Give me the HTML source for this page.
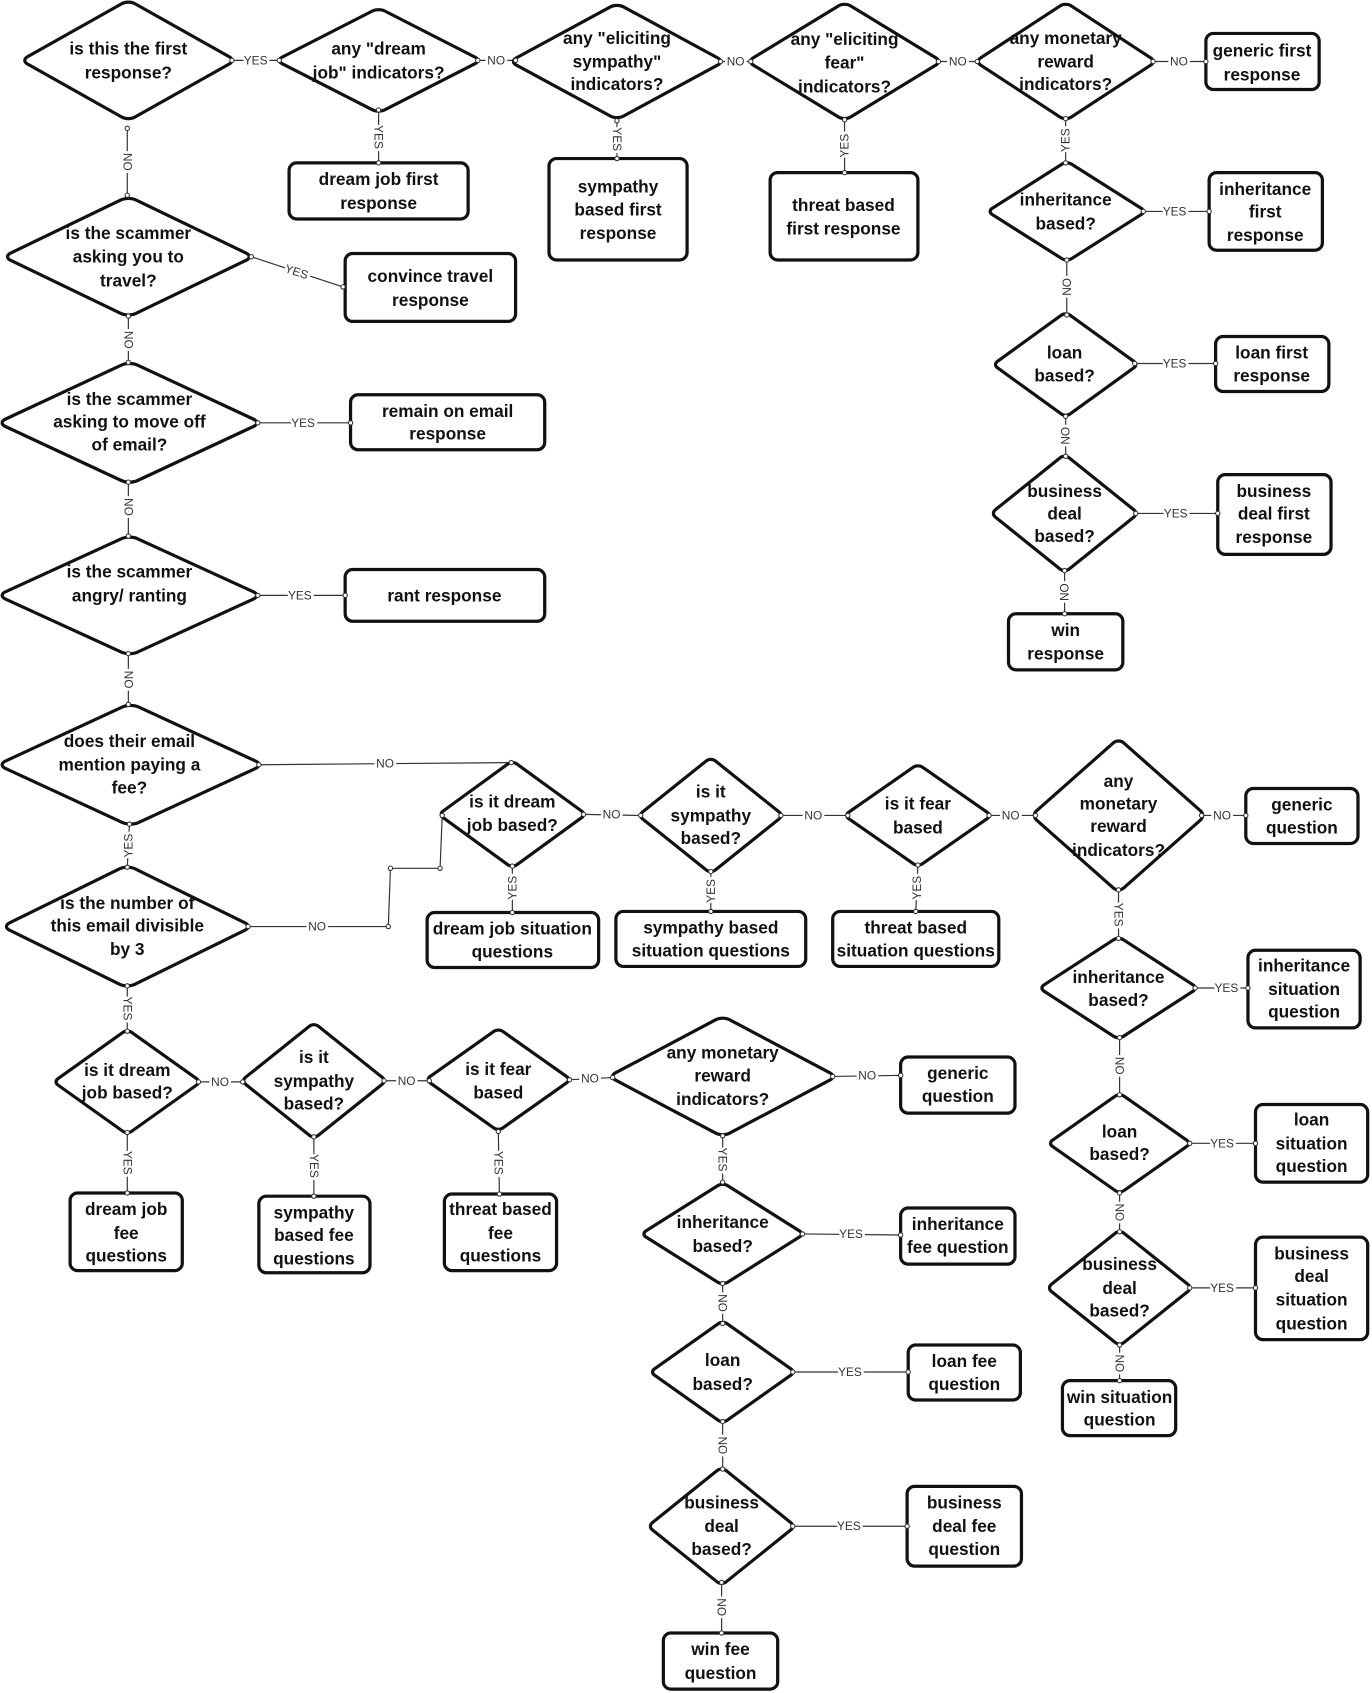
<!DOCTYPE html>
<html>
<head>
<meta charset="utf-8">
<style>
  html, body { margin: 0; padding: 0; background: #fff; }
  svg { display: block; }
  .t { font-family: "Liberation Sans", Arial, sans-serif; font-weight: bold; font-size: 16px; text-anchor: middle; dominant-baseline: central; fill: #111; }
  .l { font-family: "Liberation Sans", Arial, sans-serif; font-size: 11px; text-anchor: middle; dominant-baseline: central; fill: #333; paint-order: stroke; stroke: #fff; stroke-width: 5px; }
  .d { fill: #fff; stroke: #111; stroke-width: 3.2; }
  .b { fill: #fff; stroke: #111; stroke-width: 3; }
  .k { stroke: #333; stroke-width: 1.1; fill: none; }
  .c { fill: #fff; stroke: #333; stroke-width: 1; }
</style>
</head>
<body>
<svg width="1372" height="1693" viewBox="0 0 1272 1569.6" preserveAspectRatio="none" xmlns="http://www.w3.org/2000/svg">

<!-- ================= CONNECTOR LINES ================= -->
<g>
  <line class="k" x1="215" y1="56" x2="259" y2="56"/>
  <line class="k" x1="443" y1="56" x2="478" y2="56"/>
  <line class="k" x1="668" y1="57" x2="696" y2="57"/>
  <line class="k" x1="870" y1="57" x2="906" y2="57"/>
  <line class="k" x1="1069" y1="57" x2="1118" y2="57"/>
  <line class="k" x1="351" y1="102" x2="351" y2="151"/>
  <line class="k" x1="572" y1="112" x2="572" y2="147"/>
  <line class="k" x1="783" y1="111" x2="783" y2="160"/>
  <line class="k" x1="988" y1="110" x2="988" y2="151"/>
  <line class="k" x1="1060" y1="196" x2="1121" y2="196"/>
  <line class="k" x1="989" y1="241" x2="989" y2="292"/>
  <line class="k" x1="1052" y1="337" x2="1127" y2="337"/>
  <line class="k" x1="988" y1="386" x2="988" y2="423"/>
  <line class="k" x1="1053" y1="476" x2="1129" y2="476"/>
  <line class="k" x1="987" y1="529" x2="987" y2="569"/>

  <line class="k" x1="118" y1="119" x2="118" y2="181"/>
  <line class="k" x1="233" y1="238" x2="318" y2="266"/>
  <line class="k" x1="119" y1="293" x2="119" y2="336"/>
  <line class="k" x1="239" y1="392" x2="325" y2="392"/>
  <line class="k" x1="119" y1="447" x2="119" y2="497"/>
  <line class="k" x1="239" y1="552" x2="320" y2="552"/>
  <line class="k" x1="119" y1="606" x2="119" y2="653"/>
  <line class="k" x1="240" y1="709" x2="474" y2="707"/>
  <line class="k" x1="120" y1="764" x2="118" y2="804"/>
  <path class="k" d="M230 859 H360 L362 805 H408 L410 756"/>
  <line class="k" x1="118" y1="914" x2="118" y2="956"/>

  <line class="k" x1="184" y1="1003" x2="225" y2="1003"/>
  <line class="k" x1="356" y1="1002" x2="398" y2="1002"/>
  <line class="k" x1="528" y1="1001" x2="568" y2="999"/>
  <line class="k" x1="772" y1="998" x2="835" y2="997"/>
  <line class="k" x1="670" y1="1053" x2="670" y2="1096"/>
  <line class="k" x1="744" y1="1144" x2="835" y2="1145"/>
  <line class="k" x1="670" y1="1190" x2="670" y2="1227"/>
  <line class="k" x1="735" y1="1272" x2="842" y2="1272"/>
  <line class="k" x1="670" y1="1318" x2="670" y2="1362"/>
  <line class="k" x1="735" y1="1415" x2="841" y2="1415"/>
  <line class="k" x1="669" y1="1467" x2="669" y2="1514"/>
  <line class="k" x1="118" y1="1050" x2="118" y2="1106"/>
  <line class="k" x1="291" y1="1054" x2="291" y2="1109"/>
  <line class="k" x1="462" y1="1049" x2="463" y2="1107"/>

  <line class="k" x1="541" y1="755" x2="594" y2="756"/>
  <line class="k" x1="724" y1="756" x2="786" y2="756"/>
  <line class="k" x1="917" y1="756" x2="960" y2="756"/>
  <line class="k" x1="1114" y1="756" x2="1155" y2="756"/>
  <line class="k" x1="475" y1="803" x2="475" y2="846"/>
  <line class="k" x1="659" y1="808" x2="659" y2="845"/>
  <line class="k" x1="851" y1="802" x2="849" y2="845"/>
  <line class="k" x1="1037" y1="825" x2="1037" y2="870"/>
  <line class="k" x1="1108" y1="916" x2="1157" y2="916"/>
  <line class="k" x1="1038" y1="962" x2="1038" y2="1015"/>
  <line class="k" x1="1103" y1="1060" x2="1164" y2="1060"/>
  <line class="k" x1="1038" y1="1106" x2="1038" y2="1142"/>
  <line class="k" x1="1103" y1="1194" x2="1164" y2="1194"/>
  <line class="k" x1="1038" y1="1247" x2="1038" y2="1280"/>
</g>

<!-- ================= DIAMONDS ================= -->
<g>
  <rect class="d" x="-1" y="-1" width="2" height="2" rx="0.12" vector-effect="non-scaling-stroke" transform="translate(119,56) scale(70.36,39.58) rotate(45)"/>
  <rect class="d" x="-1" y="-1" width="2" height="2" rx="0.12" vector-effect="non-scaling-stroke" transform="translate(351,56) scale(67.43,34.45) rotate(45)"/>
  <rect class="d" x="-1" y="-1" width="2" height="2" rx="0.12" vector-effect="non-scaling-stroke" transform="translate(572,57) scale(70.36,38.11) rotate(45)"/>
  <rect class="d" x="-1" y="-1" width="2" height="2" rx="0.12" vector-effect="non-scaling-stroke" transform="translate(783,57) scale(63.76,38.84) rotate(45)"/>
  <rect class="d" x="-1" y="-1" width="2" height="2" rx="0.12" vector-effect="non-scaling-stroke" transform="translate(988,57) scale(59.36,38.84) rotate(45)"/>
  <rect class="d" x="-1" y="-1" width="2" height="2" rx="0.12" vector-effect="non-scaling-stroke" transform="translate(989,196) scale(52.04,32.98) rotate(45)"/>
  <rect class="d" x="-1" y="-1" width="2" height="2" rx="0.12" vector-effect="non-scaling-stroke" transform="translate(988,338) scale(47.64,34.45) rotate(45)"/>
  <rect class="d" x="-1" y="-1" width="2" height="2" rx="0.12" vector-effect="non-scaling-stroke" transform="translate(987,476) scale(48.37,38.84) rotate(45)"/>

  <rect class="d" x="-1" y="-1" width="2" height="2" rx="0.12" vector-effect="non-scaling-stroke" transform="translate(119,238) scale(82.08,39.58) rotate(45)"/>
  <rect class="d" x="-1" y="-1" width="2" height="2" rx="0.12" vector-effect="non-scaling-stroke" transform="translate(120,392) scale(86.48,40.31) rotate(45)"/>
  <rect class="d" x="-1" y="-1" width="2" height="2" rx="0.12" vector-effect="non-scaling-stroke" transform="translate(120,552) scale(86.48,39.58) rotate(45)"/>
  <rect class="d" x="-1" y="-1" width="2" height="2" rx="0.12" vector-effect="non-scaling-stroke" transform="translate(121,709) scale(87.22,40.31) rotate(45)"/>
  <rect class="d" x="-1" y="-1" width="2" height="2" rx="0.12" vector-effect="non-scaling-stroke" transform="translate(118,859) scale(82.08,40.31) rotate(45)"/>

  <rect class="d" x="-1" y="-1" width="2" height="2" rx="0.12" vector-effect="non-scaling-stroke" transform="translate(118,1003) scale(48.37,34.45) rotate(45)"/>
  <rect class="d" x="-1" y="-1" width="2" height="2" rx="0.12" vector-effect="non-scaling-stroke" transform="translate(291,1002) scale(47.64,38.11) rotate(45)"/>
  <rect class="d" x="-1" y="-1" width="2" height="2" rx="0.12" vector-effect="non-scaling-stroke" transform="translate(462,1001) scale(47.64,33.71) rotate(45)"/>
  <rect class="d" x="-1" y="-1" width="2" height="2" rx="0.12" vector-effect="non-scaling-stroke" transform="translate(670,998) scale(74.76,39.58) rotate(45)"/>
  <rect class="d" x="-1" y="-1" width="2" height="2" rx="0.12" vector-effect="non-scaling-stroke" transform="translate(670,1144) scale(53.50,33.71) rotate(45)"/>
  <rect class="d" x="-1" y="-1" width="2" height="2" rx="0.12" vector-effect="non-scaling-stroke" transform="translate(670,1272) scale(47.64,33.71) rotate(45)"/>
  <rect class="d" x="-1" y="-1" width="2" height="2" rx="0.12" vector-effect="non-scaling-stroke" transform="translate(669,1415) scale(48.37,38.84) rotate(45)"/>

  <rect class="d" x="-1" y="-1" width="2" height="2" rx="0.12" vector-effect="non-scaling-stroke" transform="translate(475,755) scale(48.37,35.18) rotate(45)"/>
  <rect class="d" x="-1" y="-1" width="2" height="2" rx="0.12" vector-effect="non-scaling-stroke" transform="translate(659,756) scale(47.64,38.11) rotate(45)"/>
  <rect class="d" x="-1" y="-1" width="2" height="2" rx="0.12" vector-effect="non-scaling-stroke" transform="translate(851,756) scale(48.37,33.71) rotate(45)"/>
  <rect class="d" x="-1" y="-1" width="2" height="2" rx="0.12" vector-effect="non-scaling-stroke" transform="translate(1037,756) scale(57.17,50.57) rotate(45)"/>
  <rect class="d" x="-1" y="-1" width="2" height="2" rx="0.12" vector-effect="non-scaling-stroke" transform="translate(1037,916) scale(52.04,33.71) rotate(45)"/>
  <rect class="d" x="-1" y="-1" width="2" height="2" rx="0.12" vector-effect="non-scaling-stroke" transform="translate(1038,1060) scale(46.91,32.98) rotate(45)"/>
  <rect class="d" x="-1" y="-1" width="2" height="2" rx="0.12" vector-effect="non-scaling-stroke" transform="translate(1038,1194) scale(47.64,38.11) rotate(45)"/>
</g>

<!-- ================= BOXES ================= -->
<g>
  <rect class="b" x="1118" y="31" width="105" height="52" rx="7"/>
  <rect class="b" x="268" y="151" width="166" height="52" rx="7"/>
  <rect class="b" x="509" y="147" width="128" height="94" rx="7"/>
  <rect class="b" x="714" y="160" width="137" height="81" rx="7"/>
  <rect class="b" x="1121" y="160" width="105" height="72" rx="7"/>
  <rect class="b" x="1127" y="312" width="105" height="51" rx="7"/>
  <rect class="b" x="1129" y="440" width="105" height="74" rx="7"/>
  <rect class="b" x="935" y="569" width="106" height="52" rx="7"/>

  <rect class="b" x="320" y="235" width="158" height="63" rx="7"/>
  <rect class="b" x="325" y="366" width="180" height="51" rx="7"/>
  <rect class="b" x="320" y="528" width="185" height="48" rx="7"/>

  <rect class="b" x="396" y="846" width="159" height="51" rx="7"/>
  <rect class="b" x="571" y="845" width="176" height="51" rx="7"/>
  <rect class="b" x="772" y="845" width="154" height="51" rx="7"/>
  <rect class="b" x="1155" y="731" width="104" height="51" rx="7"/>
  <rect class="b" x="1157" y="881" width="104" height="72" rx="7"/>
  <rect class="b" x="1164" y="1024" width="104" height="72" rx="7"/>
  <rect class="b" x="1164" y="1147" width="104" height="95" rx="7"/>
  <rect class="b" x="985" y="1280" width="105" height="51" rx="7"/>

  <rect class="b" x="65" y="1106" width="104" height="72" rx="7"/>
  <rect class="b" x="240" y="1109" width="103" height="71" rx="7"/>
  <rect class="b" x="412" y="1107" width="104" height="71" rx="7"/>
  <rect class="b" x="835" y="980" width="106" height="52" rx="7"/>
  <rect class="b" x="835" y="1120" width="106" height="52" rx="7"/>
  <rect class="b" x="842" y="1247" width="104" height="51" rx="7"/>
  <rect class="b" x="841" y="1378" width="106" height="74" rx="7"/>
  <rect class="b" x="615" y="1514" width="106" height="52" rx="7"/>
</g>

<!-- ================= END CIRCLES ================= -->
<g>
  <circle class="c" cx="215" cy="56" r="2"/><circle class="c" cx="259" cy="56" r="2"/>
  <circle class="c" cx="443" cy="56" r="2"/><circle class="c" cx="478" cy="56" r="2"/>
  <circle class="c" cx="668" cy="57" r="2"/><circle class="c" cx="696" cy="57" r="2"/>
  <circle class="c" cx="870" cy="57" r="2"/><circle class="c" cx="906" cy="57" r="2"/>
  <circle class="c" cx="1069" cy="57" r="2"/><circle class="c" cx="1118" cy="57" r="2"/>
  <circle class="c" cx="351" cy="102" r="2"/><circle class="c" cx="351" cy="151" r="2"/>
  <circle class="c" cx="572" cy="112" r="2"/><circle class="c" cx="572" cy="147" r="2"/>
  <circle class="c" cx="783" cy="111" r="2"/><circle class="c" cx="783" cy="160" r="2"/>
  <circle class="c" cx="988" cy="110" r="2"/><circle class="c" cx="988" cy="151" r="2"/>
  <circle class="c" cx="1060" cy="196" r="2"/><circle class="c" cx="1121" cy="196" r="2"/>
  <circle class="c" cx="989" cy="241" r="2"/><circle class="c" cx="989" cy="292" r="2"/>
  <circle class="c" cx="1052" cy="337" r="2"/><circle class="c" cx="1127" cy="337" r="2"/>
  <circle class="c" cx="988" cy="386" r="2"/><circle class="c" cx="988" cy="423" r="2"/>
  <circle class="c" cx="1053" cy="476" r="2"/><circle class="c" cx="1129" cy="476" r="2"/>
  <circle class="c" cx="987" cy="529" r="2"/><circle class="c" cx="987" cy="569" r="2"/>

  <circle class="c" cx="118" cy="119" r="2"/><circle class="c" cx="118" cy="181" r="2"/>
  <circle class="c" cx="233" cy="238" r="2"/><circle class="c" cx="318" cy="266" r="2"/>
  <circle class="c" cx="119" cy="293" r="2"/><circle class="c" cx="119" cy="336" r="2"/>
  <circle class="c" cx="239" cy="392" r="2"/><circle class="c" cx="325" cy="392" r="2"/>
  <circle class="c" cx="119" cy="447" r="2"/><circle class="c" cx="119" cy="497" r="2"/>
  <circle class="c" cx="239" cy="552" r="2"/><circle class="c" cx="320" cy="552" r="2"/>
  <circle class="c" cx="119" cy="606" r="2"/><circle class="c" cx="119" cy="653" r="2"/>
  <circle class="c" cx="240" cy="709" r="2"/><circle class="c" cx="474" cy="707" r="2"/>
  <circle class="c" cx="120" cy="764" r="2"/><circle class="c" cx="118" cy="804" r="2"/>
  <circle class="c" cx="230" cy="859" r="2"/><circle class="c" cx="360" cy="859" r="2"/>
  <circle class="c" cx="362" cy="805" r="2"/><circle class="c" cx="408" cy="805" r="2"/>
  <circle class="c" cx="410" cy="756" r="2"/>
  <circle class="c" cx="118" cy="914" r="2"/><circle class="c" cx="118" cy="956" r="2"/>

  <circle class="c" cx="184" cy="1003" r="2"/><circle class="c" cx="225" cy="1003" r="2"/>
  <circle class="c" cx="356" cy="1002" r="2"/><circle class="c" cx="398" cy="1002" r="2"/>
  <circle class="c" cx="528" cy="1001" r="2"/><circle class="c" cx="568" cy="999" r="2"/>
  <circle class="c" cx="772" cy="998" r="2"/><circle class="c" cx="835" cy="997" r="2"/>
  <circle class="c" cx="670" cy="1053" r="2"/><circle class="c" cx="670" cy="1096" r="2"/>
  <circle class="c" cx="744" cy="1144" r="2"/><circle class="c" cx="835" cy="1145" r="2"/>
  <circle class="c" cx="670" cy="1190" r="2"/><circle class="c" cx="670" cy="1227" r="2"/>
  <circle class="c" cx="735" cy="1272" r="2"/><circle class="c" cx="842" cy="1272" r="2"/>
  <circle class="c" cx="670" cy="1318" r="2"/><circle class="c" cx="670" cy="1362" r="2"/>
  <circle class="c" cx="735" cy="1415" r="2"/><circle class="c" cx="841" cy="1415" r="2"/>
  <circle class="c" cx="669" cy="1467" r="2"/><circle class="c" cx="669" cy="1514" r="2"/>
  <circle class="c" cx="118" cy="1050" r="2"/><circle class="c" cx="118" cy="1106" r="2"/>
  <circle class="c" cx="291" cy="1054" r="2"/><circle class="c" cx="291" cy="1109" r="2"/>
  <circle class="c" cx="462" cy="1049" r="2"/><circle class="c" cx="463" cy="1107" r="2"/>

  <circle class="c" cx="541" cy="755" r="2"/><circle class="c" cx="594" cy="756" r="2"/>
  <circle class="c" cx="724" cy="756" r="2"/><circle class="c" cx="786" cy="756" r="2"/>
  <circle class="c" cx="917" cy="756" r="2"/><circle class="c" cx="960" cy="756" r="2"/>
  <circle class="c" cx="1114" cy="756" r="2"/><circle class="c" cx="1155" cy="756" r="2"/>
  <circle class="c" cx="475" cy="803" r="2"/><circle class="c" cx="475" cy="846" r="2"/>
  <circle class="c" cx="659" cy="808" r="2"/><circle class="c" cx="659" cy="845" r="2"/>
  <circle class="c" cx="851" cy="802" r="2"/><circle class="c" cx="849" cy="845" r="2"/>
  <circle class="c" cx="1037" cy="825" r="2"/><circle class="c" cx="1037" cy="870" r="2"/>
  <circle class="c" cx="1108" cy="916" r="2"/><circle class="c" cx="1157" cy="916" r="2"/>
  <circle class="c" cx="1038" cy="962" r="2"/><circle class="c" cx="1038" cy="1015" r="2"/>
  <circle class="c" cx="1103" cy="1060" r="2"/><circle class="c" cx="1164" cy="1060" r="2"/>
  <circle class="c" cx="1038" cy="1106" r="2"/><circle class="c" cx="1038" cy="1142" r="2"/>
  <circle class="c" cx="1103" cy="1194" r="2"/><circle class="c" cx="1164" cy="1194" r="2"/>
  <circle class="c" cx="1038" cy="1247" r="2"/><circle class="c" cx="1038" cy="1280" r="2"/>
</g>

<!-- ================= CONNECTOR LABELS ================= -->
<g>
  <text class="l" x="237" y="56">YES</text>
  <text class="l" x="460" y="56">NO</text>
  <text class="l" x="682" y="57">NO</text>
  <text class="l" x="888" y="57">NO</text>
  <text class="l" x="1093" y="57">NO</text>
  <text class="l" transform="translate(351,127) rotate(90)">YES</text>
  <text class="l" transform="translate(572,129) rotate(90)">YES</text>
  <text class="l" transform="translate(783,135) rotate(-90)">YES</text>
  <text class="l" transform="translate(988,130) rotate(-90)">YES</text>
  <text class="l" x="1089" y="196">YES</text>
  <text class="l" transform="translate(989,266) rotate(-90)">NO</text>
  <text class="l" x="1089" y="337">YES</text>
  <text class="l" transform="translate(988,404) rotate(-90)">NO</text>
  <text class="l" x="1090" y="476">YES</text>
  <text class="l" transform="translate(987,549) rotate(-90)">NO</text>

  <text class="l" transform="translate(118,150) rotate(90)">NO</text>
  <text class="l" transform="translate(275,252) rotate(18)">YES</text>
  <text class="l" transform="translate(119,315) rotate(90)">NO</text>
  <text class="l" x="281" y="392">YES</text>
  <text class="l" transform="translate(119,470) rotate(90)">NO</text>
  <text class="l" x="278" y="552">YES</text>
  <text class="l" transform="translate(119,630) rotate(90)">NO</text>
  <text class="l" x="357" y="708">NO</text>
  <text class="l" transform="translate(119,784) rotate(-90)">YES</text>
  <text class="l" x="294" y="859">NO</text>
  <text class="l" transform="translate(118,935) rotate(90)">YES</text>

  <text class="l" x="204" y="1003">NO</text>
  <text class="l" x="377" y="1002">NO</text>
  <text class="l" x="547" y="1000">NO</text>
  <text class="l" x="804" y="997">NO</text>
  <text class="l" transform="translate(670,1075) rotate(90)">YES</text>
  <text class="l" x="789" y="1144">YES</text>
  <text class="l" transform="translate(670,1208) rotate(90)">NO</text>
  <text class="l" x="788" y="1272">YES</text>
  <text class="l" transform="translate(670,1340) rotate(90)">NO</text>
  <text class="l" x="787" y="1415">YES</text>
  <text class="l" transform="translate(669,1490) rotate(90)">NO</text>
  <text class="l" transform="translate(118,1078) rotate(90)">YES</text>
  <text class="l" transform="translate(291,1081) rotate(90)">YES</text>
  <text class="l" transform="translate(462,1078) rotate(90)">YES</text>

  <text class="l" x="567" y="755">NO</text>
  <text class="l" x="754" y="756">NO</text>
  <text class="l" x="937" y="756">NO</text>
  <text class="l" x="1133" y="756">NO</text>
  <text class="l" transform="translate(475,823) rotate(-90)">YES</text>
  <text class="l" transform="translate(659,826) rotate(-90)">YES</text>
  <text class="l" transform="translate(850,823) rotate(-90)">YES</text>
  <text class="l" transform="translate(1037,848) rotate(90)">YES</text>
  <text class="l" x="1137" y="916">YES</text>
  <text class="l" transform="translate(1038,988) rotate(90)">NO</text>
  <text class="l" x="1133" y="1060">YES</text>
  <text class="l" transform="translate(1038,1124) rotate(90)">NO</text>
  <text class="l" x="1133" y="1194">YES</text>
  <text class="l" transform="translate(1038,1264) rotate(90)">NO</text>
</g>

<!-- ================= NODE TEXT ================= -->
<g>
  <!-- row 1 -->
  <text class="t" x="119" y="45">is this the first</text>
  <text class="t" x="119" y="67">response?</text>

  <text class="t" x="351" y="45">any "dream</text>
  <text class="t" x="351" y="67">job" indicators?</text>

  <text class="t" x="572" y="35">any "eliciting</text>
  <text class="t" x="572" y="57">sympathy"</text>
  <text class="t" x="572" y="78">indicators?</text>

  <text class="t" x="783" y="36">any "eliciting</text>
  <text class="t" x="783" y="58">fear"</text>
  <text class="t" x="783" y="80">indicators?</text>

  <text class="t" x="988" y="35">any monetary</text>
  <text class="t" x="988" y="57">reward</text>
  <text class="t" x="988" y="78">indicators?</text>

  <text class="t" x="1170" y="47">generic first</text>
  <text class="t" x="1170" y="69">response</text>

  <text class="t" x="351" y="166">dream job first</text>
  <text class="t" x="351" y="188">response</text>

  <text class="t" x="573" y="173">sympathy</text>
  <text class="t" x="573" y="194">based first</text>
  <text class="t" x="573" y="216">response</text>

  <text class="t" x="782" y="190">threat based</text>
  <text class="t" x="782" y="212">first response</text>

  <text class="t" x="988" y="185">inheritance</text>
  <text class="t" x="988" y="207">based?</text>

  <text class="t" x="1173" y="175">inheritance</text>
  <text class="t" x="1173" y="196">first</text>
  <text class="t" x="1173" y="218">response</text>

  <text class="t" x="987" y="327">loan</text>
  <text class="t" x="987" y="348">based?</text>

  <text class="t" x="1179" y="327">loan first</text>
  <text class="t" x="1179" y="348">response</text>

  <text class="t" x="987" y="455">business</text>
  <text class="t" x="987" y="476">deal</text>
  <text class="t" x="987" y="497">based?</text>

  <text class="t" x="1181" y="455">business</text>
  <text class="t" x="1181" y="476">deal first</text>
  <text class="t" x="1181" y="498">response</text>

  <text class="t" x="988" y="584">win</text>
  <text class="t" x="988" y="606">response</text>

  <!-- left column -->
  <text class="t" x="119" y="216">is the scammer</text>
  <text class="t" x="119" y="238">asking you to</text>
  <text class="t" x="119" y="260">travel?</text>

  <text class="t" x="399" y="256">convince travel</text>
  <text class="t" x="399" y="278">response</text>

  <text class="t" x="120" y="370">is the scammer</text>
  <text class="t" x="120" y="391">asking to move off</text>
  <text class="t" x="120" y="412">of email?</text>

  <text class="t" x="415" y="381">remain on email</text>
  <text class="t" x="415" y="402">response</text>

  <text class="t" x="120" y="530">is the scammer</text>
  <text class="t" x="120" y="552">angry/ ranting</text>

  <text class="t" x="412" y="552">rant response</text>

  <text class="t" x="120" y="687">does their email</text>
  <text class="t" x="120" y="709">mention paying a</text>
  <text class="t" x="120" y="730">fee?</text>

  <text class="t" x="118" y="837">is the number of</text>
  <text class="t" x="118" y="858">this email divisible</text>
  <text class="t" x="118" y="880">by 3</text>

  <!-- fee row -->
  <text class="t" x="118" y="992">is it dream</text>
  <text class="t" x="118" y="1013">job based?</text>

  <text class="t" x="291" y="980">is it</text>
  <text class="t" x="291" y="1002">sympathy</text>
  <text class="t" x="291" y="1023">based?</text>

  <text class="t" x="462" y="991">is it fear</text>
  <text class="t" x="462" y="1013">based</text>

  <text class="t" x="670" y="976">any monetary</text>
  <text class="t" x="670" y="997">reward</text>
  <text class="t" x="670" y="1019">indicators?</text>

  <text class="t" x="888" y="995">generic</text>
  <text class="t" x="888" y="1016">question</text>

  <text class="t" x="117" y="1121">dream job</text>
  <text class="t" x="117" y="1143">fee</text>
  <text class="t" x="117" y="1164">questions</text>

  <text class="t" x="291" y="1124">sympathy</text>
  <text class="t" x="291" y="1145">based fee</text>
  <text class="t" x="291" y="1167">questions</text>

  <text class="t" x="464" y="1121">threat based</text>
  <text class="t" x="464" y="1143">fee</text>
  <text class="t" x="464" y="1164">questions</text>

  <text class="t" x="670" y="1133">inheritance</text>
  <text class="t" x="670" y="1155">based?</text>

  <text class="t" x="888" y="1135">inheritance</text>
  <text class="t" x="888" y="1156">fee question</text>

  <text class="t" x="670" y="1261">loan</text>
  <text class="t" x="670" y="1283">based?</text>

  <text class="t" x="894" y="1262">loan fee</text>
  <text class="t" x="894" y="1283">question</text>

  <text class="t" x="669" y="1393">business</text>
  <text class="t" x="669" y="1415">deal</text>
  <text class="t" x="669" y="1436">based?</text>

  <text class="t" x="894" y="1393">business</text>
  <text class="t" x="894" y="1415">deal fee</text>
  <text class="t" x="894" y="1436">question</text>

  <text class="t" x="668" y="1529">win fee</text>
  <text class="t" x="668" y="1551">question</text>

  <!-- situation row -->
  <text class="t" x="475" y="743">is it dream</text>
  <text class="t" x="475" y="765">job based?</text>

  <text class="t" x="659" y="734">is it</text>
  <text class="t" x="659" y="756">sympathy</text>
  <text class="t" x="659" y="777">based?</text>

  <text class="t" x="851" y="745">is it fear</text>
  <text class="t" x="851" y="767">based</text>

  <text class="t" x="1037" y="724">any</text>
  <text class="t" x="1037" y="745">monetary</text>
  <text class="t" x="1037" y="766">reward</text>
  <text class="t" x="1037" y="788">indicators?</text>

  <text class="t" x="1207" y="746">generic</text>
  <text class="t" x="1207" y="767">question</text>

  <text class="t" x="475" y="861">dream job situation</text>
  <text class="t" x="475" y="882">questions</text>

  <text class="t" x="659" y="860">sympathy based</text>
  <text class="t" x="659" y="881">situation questions</text>

  <text class="t" x="849" y="860">threat based</text>
  <text class="t" x="849" y="881">situation questions</text>

  <text class="t" x="1037" y="906">inheritance</text>
  <text class="t" x="1037" y="927">based?</text>

  <text class="t" x="1209" y="895">inheritance</text>
  <text class="t" x="1209" y="917">situation</text>
  <text class="t" x="1209" y="938">question</text>

  <text class="t" x="1038" y="1049">loan</text>
  <text class="t" x="1038" y="1070">based?</text>

  <text class="t" x="1216" y="1038">loan</text>
  <text class="t" x="1216" y="1060">situation</text>
  <text class="t" x="1216" y="1081">question</text>

  <text class="t" x="1038" y="1172">business</text>
  <text class="t" x="1038" y="1194">deal</text>
  <text class="t" x="1038" y="1215">based?</text>

  <text class="t" x="1216" y="1162">business</text>
  <text class="t" x="1216" y="1183">deal</text>
  <text class="t" x="1216" y="1205">situation</text>
  <text class="t" x="1216" y="1227">question</text>

  <text class="t" x="1038" y="1295">win situation</text>
  <text class="t" x="1038" y="1316">question</text>
</g>
</svg>
</body>
</html>
